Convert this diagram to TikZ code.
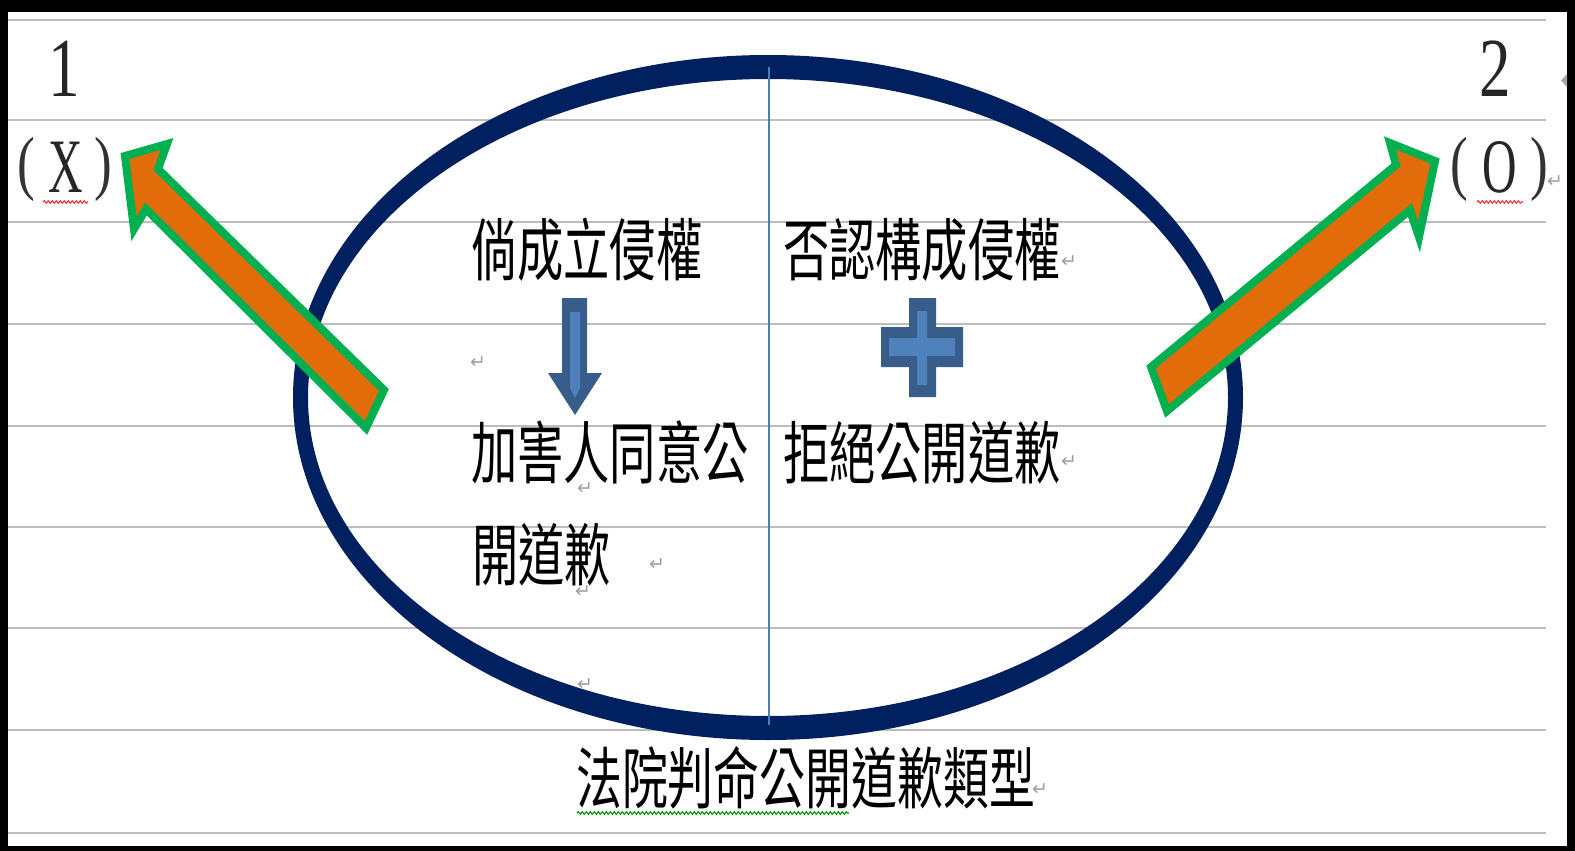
\documentclass[tikz,border=0pt]{standalone}
\usepackage{fontspec}
\usetikzlibrary{decorations.pathmorphing}
\newfontfamily\cjk[FakeStretch=0.68]{Noto Sans CJK TC}
\newfontfamily\cjktit[FakeStretch=0.685]{Noto Sans CJK TC}
\newfontfamily\digfont[FakeStretch=0.75]{Liberation Serif}
\newfontfamily\xfont[FakeStretch=0.62]{Liberation Serif}
\newfontfamily\symfont{DejaVu Sans}
\definecolor{navy}{HTML}{002060}
\definecolor{gridgray}{HTML}{BDBDBD}
\definecolor{arroworange}{HTML}{E36C0A}
\definecolor{arrowgreen}{HTML}{00B050}
\definecolor{shapefill}{HTML}{4F81BD}
\definecolor{shapeline}{HTML}{385D8A}
\definecolor{divider}{HTML}{4A7EBB}
\tikzset{
  gridline/.style={draw=gridgray, line width=2pt},
  bigarrow/.style={fill=arroworange, draw=arrowgreen, line width=8pt, line join=miter, miter limit=4},
  cjkt/.style={font=\cjk\fontsize{68}{68}\selectfont, inner sep=0pt, anchor=base west},
  cjktitle/.style={font=\cjktit\fontsize{67}{67}\selectfont, inner sep=0pt, anchor=base west},
  digit/.style={font=\digfont\fontsize{84}{84}\selectfont, inner sep=0pt, anchor=center, text=black!85},
  paren/.style={font=\digfont\fontsize{71}{71}\selectfont, inner sep=0pt, anchor=center, text=black!80},
  letter/.style={font=\xfont\fontsize{77}{77}\selectfont, inner sep=0pt, anchor=center, text=black!85},
  retmark/.style={font=\symfont\fontsize{19}{19}\selectfont, inner sep=0pt, text=gray!75},
  redwave/.style={draw=red!80, line width=1.1pt, decorate, decoration={snake, amplitude=1.3pt, segment length=4pt}},
  greenwave/.style={draw=green!60!black, line width=1.1pt, decorate, decoration={snake, amplitude=1.3pt, segment length=4pt}}
}
\begin{document}
\begin{tikzpicture}[x=1pt,y=-1pt]
\useasboundingbox (0,0) rectangle (1575,851);
% frame
\fill[black] (0,0) rectangle (1575,851);
\fill[white] (8,12) rectangle (1567,846);
\fill[gray!70] (1567,74) -- (1561,80.5) -- (1567,87) -- cycle;
% grid lines
\foreach \yy in {20,120,222,323.5,426,527,628,729.5,833}{
  \draw[gridline] (8,\yy) -- (1546,\yy);
}
% ellipse ring
\fill[navy, even odd rule] (768,397.5) ellipse [x radius=475pt, y radius=342.5pt]
                           (768,397.5) ellipse [x radius=460pt, y radius=318.5pt];
% divider
\coordinate (dtop) at (769,67);
\coordinate (dbot) at (769,725);
\draw[divider, line width=2.5pt] (dtop) -- (dbot);
% big arrows
\draw[bigarrow] (125,156) -- (167,144) -- (158,169) -- (384,390) -- (366,428) -- (146,209) -- (134,229) -- cycle;
\draw[bigarrow] (1435,161) -- (1390,143) -- (1396,165) -- (1151,367) -- (1167,411) -- (1410,210) -- (1419,237) -- cycle;
% down arrow
\fill[shapeline] (562,298) -- (587,298) -- (587,373) -- (602,373) -- (575,415) -- (548,373) -- (562,373) -- cycle;
\fill[shapefill] (570,312) -- (580,312) -- (580,388) -- (575,398) -- (570,388) -- cycle;
% plus
\fill[shapeline] (909,298) -- (936,298) -- (936,327) -- (963,327) -- (963,367) -- (936,367) -- (936,397) -- (909,397) -- (909,367) -- (881,367) -- (881,327) -- (909,327) -- cycle;
\fill[shapefill] (917,311) -- (927,311) -- (927,338) -- (955,338) -- (955,356) -- (927,356) -- (927,385) -- (917,385) -- (917,356) -- (889,356) -- (889,338) -- (917,338) -- cycle;
% texts
\node[cjkt] (t1) at (471,275) {倘成立侵權};
\node[cjkt] (t2) at (783,275) {否認構成侵權};
\node[cjkt] (t3) at (471,478) {加害人同意公};
\node[cjkt] (t4) at (783,478) {拒絕公開道歉};
\node[cjkt] (t5) at (472,580) {開道歉};
\node[cjktitle] (t6) at (576,803) {法院判命公開道歉類型};
% numbers and marks
\node[digit] (n1) at (64,68.5) {1};
\node[digit] (n2) at (1495,68.5) {2};
\node[paren] (lp1) at (26,169) {(};
\node[letter] (x1) at (66,167.5) {X};
\node[paren] (rp1) at (103,169) {)};
\node[paren] (lp2) at (1459,169) {(};
\node[letter] (o2) at (1500,167.5) {O};
\node[paren] (rp2) at (1539,169) {)};
% wavy underlines
\coordinate (w1a) at (43,202); \coordinate (w1b) at (88,202);
\coordinate (w2a) at (1477,202); \coordinate (w2b) at (1523,202);
\coordinate (w3a) at (577,813); \coordinate (w3b) at (849,813);
\draw[redwave] (w1a) -- (w1b);
\draw[redwave] (w2a) -- (w2b);
\draw[greenwave] (w3a) -- (w3b);
% paragraph marks
\node[retmark] (r1) at (478,363) {↵};
\node[retmark] (r2) at (585,489) {↵};
\node[retmark] (r3) at (657,565) {↵};
\node[retmark] (r4) at (583,592) {↵};
\node[retmark] (r5) at (585,685) {↵};
\node[retmark] (r6) at (1069,262) {↵};
\node[retmark] (r7) at (1069,462) {↵};
\node[retmark] (r8) at (1040,790) {↵};
\node[retmark] (r9) at (1555,182) {↵};
\end{tikzpicture}
\end{document}
